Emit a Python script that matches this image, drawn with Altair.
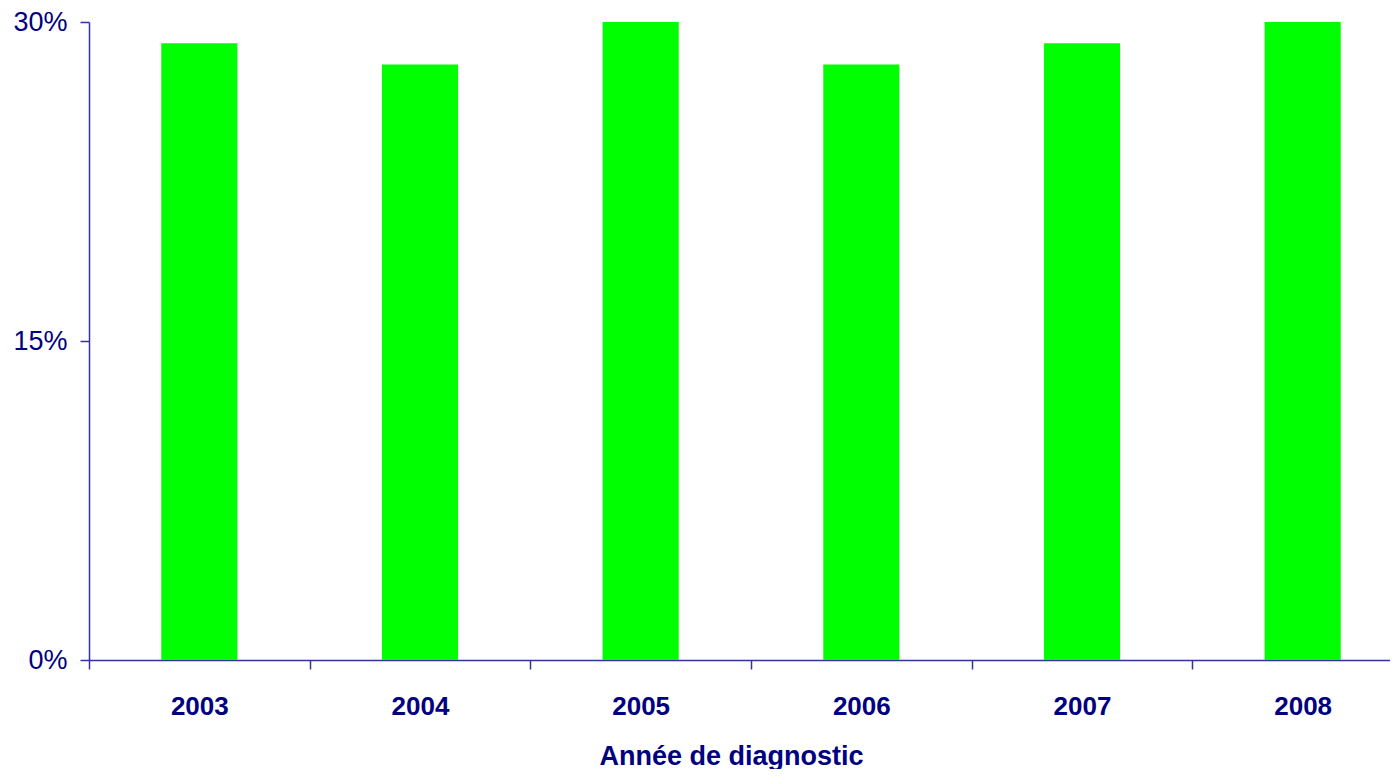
import altair as alt
import pandas as pd

years = ["2003", "2004", "2005", "2006", "2007", "2008"]
values = [0.29, 0.28, 0.30, 0.28, 0.29, 0.30]

df = pd.DataFrame({"year": years, "value": values})

FONT = "Liberation Sans, Arial"
TXT = "#000080"
AX = "#333399"

chart = alt.Chart(df).mark_bar(color="#00FF00", width=alt.RelativeBandSize(0.345)).encode(
    x=alt.X("year:N", sort=years,
            scale=alt.Scale(paddingInner=0, paddingOuter=0, range=[0, 1324]),
            axis=alt.Axis(title="Année de diagnostic", labelAngle=0,
                          tickBand="extent", tickSize=9, tickColor=AX, tickWidth=1.5,
                          domainColor=AX, domainWidth=1.5,
                          labelFont=FONT, labelFontSize=26, labelFontWeight="bold",
                          labelColor=TXT, labelPadding=24,
                          titleFont=FONT, titleFontSize=27, titleFontWeight="bold",
                          titleColor=TXT, titlePadding=24,
                          titleX=642, titleAlign="center")),
    y=alt.Y("value:Q", scale=alt.Scale(domain=[0, 0.30], nice=False),
            axis=alt.Axis(title=None, values=[0, 0.15, 0.30], format=".0%",
                          grid=False, tickSize=9, tickColor=AX, tickWidth=1.5,
                          domainColor=AX, domainWidth=1.5,
                          labelFont=FONT, labelFontSize=27, labelFontWeight="normal",
                          labelColor=TXT, labelPadding=13)),
).properties(
    width=1301, height=638,
    autosize=alt.AutoSizeParams(type="none"),
    padding={"left": 81, "top": 14, "right": 0, "bottom": 109},
).configure_view(stroke=None)

chart.save("out.html", embed_options={"renderer": "svg", "actions": False})
